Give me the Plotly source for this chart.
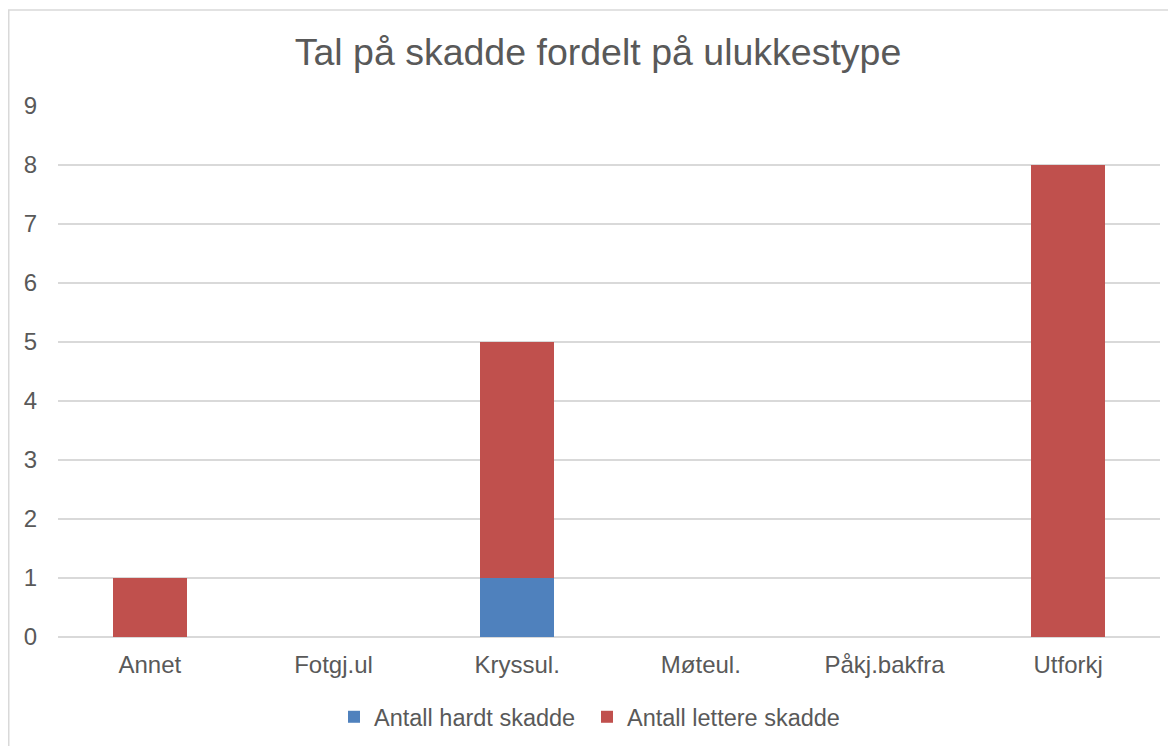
import plotly.graph_objects as go

categories = ["Annet", "Fotgj.ul", "Kryssul.", "Møteul.", "Påkj.bakfra", "Utforkj"]
hardt_skadde = [0, 0, 1, 0, 0, 0]
lettere_skadde = [1, 0, 4, 0, 0, 8]
series_names = ["Antall hardt skadde", "Antall lettere skadde"]
title_text = "Tal på skadde fordelt på ulukkestype"
y_ticks = list(range(0, 10))

# page has an 8px body margin; work in figure coordinates
W, H = 1168, 738
L, T = 50, 98
pw, ph = 1102, 531
R, B = W - L - pw, H - T - ph

txt = "#595959"
font = "Liberation Sans, Arial, sans-serif"

fig = go.Figure()
fig.add_trace(go.Bar(x=categories, y=hardt_skadde, name=series_names[0], legend="legend",
                     showlegend=True,
                     marker=dict(color="#4F81BD", line=dict(width=0)), width=0.4))
fig.add_trace(go.Bar(x=categories, y=lettere_skadde, name=series_names[1], legend="legend2",
                     showlegend=True,
                     marker=dict(color="#C0504D", line=dict(width=0)), width=0.4))

leg_y = (-(709 - (T + ph))) / ph
leg_common = dict(orientation="h", xanchor="left", y=leg_y, yanchor="middle",
                  font=dict(size=23.5, color=txt, family=font), itemwidth=30,
                  bgcolor="rgba(0,0,0,0)", borderwidth=0, visible=True)

fig.update_layout(
    barmode="stack",
    showlegend=True,
    width=W, height=H,
    margin=dict(l=L, r=R, t=T, b=B, pad=0, autoexpand=False),
    paper_bgcolor="white", plot_bgcolor="white",
    font=dict(family=font, color=txt, size=24),
    title=dict(text=title_text, x=590 / W, xanchor="center", y=1 - 44 / H, yanchor="middle",
               font=dict(size=37.5, color=txt, family=font)),
    legend=dict(x=(366 - 40 - L) / pw, **leg_common),
    legend2=dict(x=(619 - 40 - L) / pw, **leg_common),
    xaxis=dict(showgrid=False, showline=False, ticks="", tickfont=dict(size=24, color=txt),
               ticklabelstandoff=11, automargin=False),
    yaxis=dict(range=[0, 9], tickvals=y_ticks, showgrid=True, gridcolor="#D9D9D9", gridwidth=1.5,
               zeroline=True, zerolinecolor="#D9D9D9", zerolinewidth=1.5, automargin=False,
               showline=False, ticks="", tickfont=dict(size=24, color=txt), ticklabelstandoff=20),
    shapes=[dict(type="rect", xref="paper", yref="paper",
                 x0=(0.75 - L) / pw, x1=(W + 20 - L) / pw,
                 y0=(-H) / ph, y1=1 + (T - 2) / ph,
                 line=dict(color="#D9D9D9", width=1.5), fillcolor="rgba(0,0,0,0)", layer="below")],
)

fig.write_html("out.html")
